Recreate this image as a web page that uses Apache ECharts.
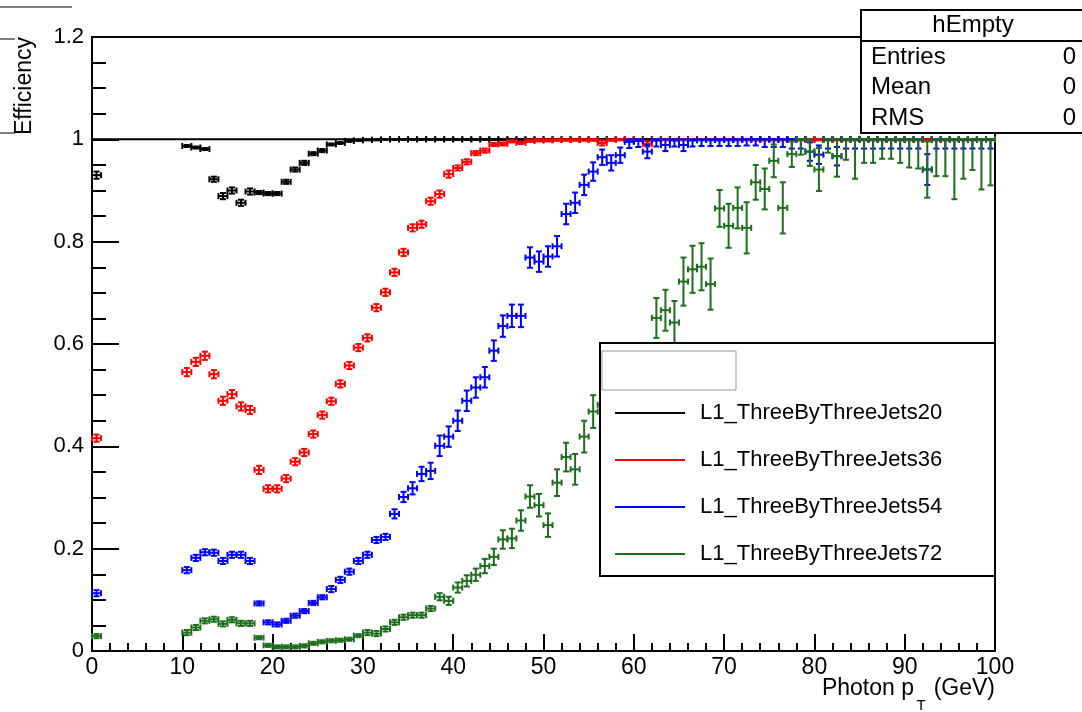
<!DOCTYPE html>
<html>
<head>
<meta charset="utf-8">
<script src="https://cdn.jsdelivr.net/npm/echarts@6/dist/echarts.min.js"></script>
<style>body { margin: 0; background: #fff; }</style>
</head>
<body>
<div id="ch" style="width: 1082px; height: 712px;"></div>

<script>
// bin centres (GeV), bins 1..10 are empty
var bins = [0.5,
  10.5, 11.5, 12.5, 13.5, 14.5, 15.5, 16.5, 17.5, 18.5, 19.5,
  20.5, 21.5, 22.5, 23.5, 24.5, 25.5, 26.5, 27.5, 28.5, 29.5,
  30.5, 31.5, 32.5, 33.5, 34.5, 35.5, 36.5, 37.5, 38.5, 39.5,
  40.5, 41.5, 42.5, 43.5, 44.5, 45.5, 46.5, 47.5, 48.5, 49.5,
  50.5, 51.5, 52.5, 53.5, 54.5, 55.5, 56.5, 57.5, 58.5, 59.5,
  60.5, 61.5, 62.5, 63.5, 64.5, 65.5, 66.5, 67.5, 68.5, 69.5,
  70.5, 71.5, 72.5, 73.5, 74.5, 75.5, 76.5, 77.5, 78.5, 79.5,
  80.5, 81.5, 82.5, 83.5, 84.5, 85.5, 86.5, 87.5, 88.5, 89.5,
  90.5, 91.5, 92.5, 93.5, 94.5, 95.5, 96.5, 97.5, 98.5, 99.5]

var jets20 = [0.93,
  0.987, 0.984, 0.981, 0.922, 0.889, 0.900, 0.876, 0.898, 0.896, 0.894,
  0.894, 0.917, 0.941, 0.954, 0.972, 0.978, 0.990, 0.993, 0.997, 0.998,
  0.999, 0.999, 1, 1, 1, 1, 1, 1, 1, 1,
  1, 1, 1, 1, 1, 1, 1, 1, 1, 1,
  1, 1, 1, 1, 1, 1, 1, 1, 1, 1,
  1, 1, 1, 1, 1, 1, 1, 1, 1, 1,
  1, 1, 1, 1, 1, 1, 1, 1, 1, 1,
  1, 1, 1, 1, 1, 1, 1, 1, 1, 1,
  1, 1, 1, 1, 1, 1, 1, 1, 1, 1]
var jets20Err = [0.007,
  0.002, 0.002, 0.002, 0.005, 0.006, 0.006, 0.006, 0.006, 0.003, 0.003,
  0.003, 0.004, 0.004, 0.004, 0.003, 0.003, 0.002, 0.002, 0.002, 0.001,
  0.001, 0.001, 0.001, 0.001, 0.001, 0.001, 0.001, 0.001, 0.001, 0.001,
  0.001, 0.001, 0.001, 0.001, 0.001, 0.001, 0.001, 0.001, 0.001, 0.001,
  0.001, 0.001, 0.001, 0.001, 0.001, 0.001, 0.001, 0.001, 0.001, 0.001,
  0.001, 0.001, 0.001, 0.001, 0.001, 0.001, 0.001, 0.001, 0.001, 0.001,
  0.001, 0.001, 0.001, 0.001, 0.001, 0.001, 0.001, 0.001, 0.001, 0.001,
  0.001, 0.001, 0.001, 0.001, 0.001, 0.001, 0.001, 0.001, 0.001, 0.001,
  0.001, 0.001, 0.001, 0.001, 0.001, 0.001, 0.001, 0.001, 0.001, 0.001]

var jets36 = [0.416,
  0.545, 0.565, 0.577, 0.541, 0.489, 0.502, 0.478, 0.471, 0.354, 0.317,
  0.317, 0.337, 0.370, 0.388, 0.424, 0.461, 0.488, 0.522, 0.558, 0.593,
  0.612, 0.671, 0.701, 0.740, 0.779, 0.827, 0.834, 0.879, 0.893, 0.932,
  0.944, 0.956, 0.973, 0.978, 0.990, 0.991, 0.996, 0.993, 0.997, 0.998,
  0.998, 0.999, 0.999, 0.999, 0.999, 0.999, 0.993, 0.999, 1, 1,
  1, 0.991, 1, 1, 1, 1, 1, 1, 1, 1,
  1, 1, 1, 1, 1, 1, 1, 1, 1, 1,
  1, 1, 1, 1, 1, 1, 1, 1, 1, 1,
  1, 1, 1, 1, 1, 1, 1, 1, 1, 1]
var jets36Err = [0.007,
  0.008, 0.008, 0.008, 0.008, 0.008, 0.008, 0.008, 0.008, 0.008, 0.007,
  0.007, 0.007, 0.007, 0.007, 0.007, 0.007, 0.007, 0.007, 0.007, 0.007,
  0.007, 0.007, 0.007, 0.007, 0.007, 0.007, 0.007, 0.007, 0.007, 0.007,
  0.005, 0.005, 0.004, 0.004, 0.003, 0.003, 0.002, 0.002, 0.002, 0.002,
  0.002, 0.002, 0.002, 0.002, 0.002, 0.002, 0.005, 0.002, 0.002, 0.002,
  0.002, 0.005, 0.002, 0.002, 0.002, 0.002, 0.002, 0.002, 0.002, 0.002,
  0.002, 0.002, 0.002, 0.002, 0.002, 0.002, 0.002, 0.002, 0.002, 0.002,
  0.002, 0.002, 0.002, 0.002, 0.002, 0.002, 0.002, 0.002, 0.002, 0.002,
  0.002, 0.002, 0.002, 0.002, 0.002, 0.002, 0.002, 0.002, 0.002, 0.002]

var jets54 = [0.113,
  0.158, 0.182, 0.193, 0.192, 0.176, 0.188, 0.188, 0.176, 0.093, 0.056,
  0.052, 0.059, 0.069, 0.078, 0.094, 0.105, 0.121, 0.139, 0.155, 0.176,
  0.188, 0.217, 0.223, 0.268, 0.301, 0.318, 0.346, 0.352, 0.401, 0.419,
  0.450, 0.489, 0.515, 0.535, 0.587, 0.635, 0.655, 0.655, 0.769, 0.761,
  0.771, 0.791, 0.854, 0.876, 0.911, 0.937, 0.965, 0.954, 0.969, 0.995,
  0.997, 0.976, 0.998, 0.989, 0.998, 0.989, 0.998, 0.999, 0.999, 0.999,
  0.999, 0.999, 1, 1, 1, 1, 1, 1, 1, 0.976,
  0.970, 1, 0.967, 1, 1, 1, 1, 1, 1, 1,
  1, 1, 0.941, 1, 1, 1, 1, 1, 1, 1]
var jets54Err = [0.006,
  0.006, 0.006, 0.006, 0.006, 0.006, 0.006, 0.006, 0.006, 0.004, 0.004,
  0.004, 0.004, 0.004, 0.004, 0.004, 0.004, 0.006, 0.006, 0.006, 0.006,
  0.006, 0.006, 0.006, 0.009, 0.010, 0.012, 0.014, 0.016, 0.020, 0.020,
  0.020, 0.020, 0.020, 0.020, 0.020, 0.021, 0.022, 0.022, 0.020, 0.020,
  0.020, 0.020, 0.020, 0.020, 0.020, 0.018, 0.015, 0.015, 0.015, 0.012,
  0.012, 0.013, 0.012, 0.012, 0.012, 0.012, 0.012, 0.012, 0.012, 0.012,
  0.012, 0.012, 0.012, 0.012, 0.015, 0.015, 0.015, 0.018, 0.018, 0.018,
  0.018, 0.018, 0.018, 0.018, 0.018, 0.018, 0.018, 0.018, 0.018, 0.018,
  0.018, 0.018, 0.030, 0.018, 0.018, 0.018, 0.018, 0.018, 0.018, 0.018]

var jets72 = [0.029,
  0.036, 0.046, 0.059, 0.062, 0.053, 0.061, 0.054, 0.054, 0.026, 0.011,
  0.008, 0.008, 0.008, 0.010, 0.015, 0.018, 0.020, 0.021, 0.023, 0.030,
  0.036, 0.034, 0.043, 0.056, 0.066, 0.070, 0.070, 0.083, 0.106, 0.098,
  0.124, 0.137, 0.149, 0.166, 0.184, 0.218, 0.220, 0.255, 0.302, 0.285,
  0.246, 0.329, 0.379, 0.355, 0.419, 0.468, 0.481, 0.500, 0.520, 0.540,
  0.550, 0.560, 0.651, 0.666, 0.642, 0.722, 0.746, 0.751, 0.717, 0.865,
  0.831, 0.866, 0.827, 0.916, 0.903, 0.958, 0.866, 0.971, 1, 0.976,
  0.941, 1, 0.967, 1, 1, 1, 1, 1, 1, 1,
  1, 1, 0.941, 1, 1, 1, 1, 1, 1, 1]
var jets72Err = [0.004,
  0.005, 0.005, 0.005, 0.005, 0.005, 0.005, 0.005, 0.005, 0.003, 0.003,
  0.003, 0.003, 0.003, 0.003, 0.003, 0.003, 0.003, 0.003, 0.003, 0.003,
  0.005, 0.005, 0.005, 0.005, 0.005, 0.005, 0.005, 0.005, 0.007, 0.008,
  0.010, 0.011, 0.012, 0.014, 0.016, 0.018, 0.019, 0.020, 0.022, 0.022,
  0.023, 0.026, 0.028, 0.030, 0.031, 0.032, 0.034, 0.034, 0.034, 0.034,
  0.034, 0.034, 0.039, 0.040, 0.042, 0.047, 0.046, 0.046, 0.050, 0.036,
  0.043, 0.040, 0.050, 0.034, 0.040, 0.032, 0.050, 0.025, 0.030, 0.028,
  0.042, 0.026, 0.040, 0.040, 0.077, 0.046, 0.046, 0.038, 0.038, 0.046,
  0.055, 0.057, 0.055, 0.072, 0.072, 0.117, 0.077, 0.060, 0.098, 0.090]

var names = ['L1_ThreeByThreeJets20', 'L1_ThreeByThreeJets36', 'L1_ThreeByThreeJets54', 'L1_ThreeByThreeJets72']
var colors = ['#000000', '#ff0000', '#0000ff', '#1e6e1e']
var yTicks = [0, 0.2, 0.4, 0.6, 0.8, 1, 1.2]
var xTicks = [0, 10, 20, 30, 40, 50, 60, 70, 80, 90, 100]

var font = 'Liberation Sans, Arial, sans-serif'

function toPoints(vals, errs) {
    return bins.map(function(x, i) {
        var v = vals[i]
        return [x, v, errs[i], Math.min(errs[i], 1 - v)]
    })
}

function renderBar(params, api) {
    var x = api.value(0), y = api.value(1)
    var lo = api.value(2), hi = api.value(3)
    var c = api.coord([x, y])
    var l = api.coord([x - 0.5, y])
    var r = api.coord([x + 0.5, y])
    var b = api.coord([x, y - lo])
    var t = api.coord([x, y + hi])
    var col = api.visual('color')
    var cap = 3
    var segs = [
        [l[0], c[1], r[0], c[1]],
        [l[0], c[1] - cap, l[0], c[1] + cap],
        [r[0], c[1] - cap, r[0], c[1] + cap],
        [c[0], b[1], c[0], t[1]],
        [c[0] - cap, b[1], c[0] + cap, b[1]],
        [c[0] - cap, t[1], c[0] + cap, t[1]]
    ]
    return {
        type: 'group',
        children: segs.map(function(s) {
            return {
                type: 'line',
                shape: { x1: s[0], y1: s[1], x2: s[2], y2: s[3] },
                style: { stroke: col, lineWidth: 2 }
            }
        })
    }
}

var allVals = [jets20, jets36, jets54, jets72]
var allErrs = [jets20Err, jets36Err, jets54Err, jets72Err]

var series = [{
    type: 'line',
    data: [[0, 1], [100, 1]],
    showSymbol: false,
    silent: true,
    z: 1,
    lineStyle: { color: '#000', width: 2 }
}]
names.forEach(function(n, i) {
    series.push({
        name: n,
        type: 'custom',
        renderItem: renderBar,
        data: toPoints(allVals[i], allErrs[i]),
        encode: { x: 0, y: 1 },
        itemStyle: { color: colors[i] },
        z: 2 + i,
        silent: true
    })
})

function txt(x, y, s, size, align, extra) {
    var el = {
        type: 'text', x: x, y: y, z: 100,
        style: { text: s, fill: '#000', font: size + 'px ' + font,
                 align: align, verticalAlign: 'middle', textAlign: align, textVerticalAlign: 'middle' }
    }
    if (extra) el.rotation = extra
    return el
}

// legend box drawn over the plot
var legendEls = [
    { type: 'rect', z: 100, shape: { x: 600, y: 343, width: 395, height: 233 },
      style: { fill: '#fff', stroke: '#000', lineWidth: 2 } },
    { type: 'rect', z: 100, shape: { x: 602, y: 351, width: 134, height: 39 },
      style: { fill: '#fff', stroke: '#999', lineWidth: 1 } }
]
var legendY = [413, 460, 507, 554]
names.forEach(function(n, i) {
    legendEls.push({ type: 'line', z: 101, shape: { x1: 615, y1: legendY[i], x2: 685, y2: legendY[i] },
        style: { stroke: colors[i], lineWidth: 2 } })
    legendEls.push(txt(700, legendY[i], n, 22, 'left'))
})

var statRows = [['Entries', '0', 57], ['Mean', '0', 87], ['RMS', '0', 118]]
var statEls = [
    { type: 'rect', z: 100, shape: { x: 861, y: 10, width: 240, height: 123 },
      style: { fill: '#fff', stroke: '#000', lineWidth: 2 } },
    { type: 'line', z: 101, shape: { x1: 861, y1: 41, x2: 1082, y2: 41 },
      style: { stroke: '#000', lineWidth: 2 } },
    txt(973, 25, 'hEmpty', 24, 'center')
]
statRows.forEach(function(r) {
    statEls.push(txt(871, r[2], r[0], 24, 'left'))
    statEls.push(txt(1076, r[2], r[1], 24, 'right'))
})

var otherEls = [
    { type: 'line', z: 100, shape: { x1: 0, y1: 7, x2: 72, y2: 7 }, style: { stroke: '#000', lineWidth: 1 } },
    { type: 'line', z: 100, shape: { x1: 0, y1: 39, x2: 15, y2: 39 }, style: { stroke: '#000', lineWidth: 1 } },
    { type: 'line', z: 100, shape: { x1: 0, y1: 133, x2: 15, y2: 133 }, style: { stroke: '#000', lineWidth: 1 } },
    txt(25, 37, 'Efficiency', 23, 'right', Math.PI / 2),
    txt(995, 689, '(GeV)', 23, 'right'),
    txt(921, 706, 'T', 15, 'center'),
    txt(914, 689, 'Photon p', 23, 'right')
]

var chartInst = echarts.init(document.getElementById('ch'))
chartInst.setOption({
    animation: false,
    backgroundColor: '#fff',
    grid: {
        left: 92, right: 87, top: 37, bottom: 61,
        show: true, borderColor: '#000', borderWidth: 2, backgroundColor: 'transparent'
    },
    xAxis: {
        type: 'value', min: xTicks[0], max: xTicks[xTicks.length - 1], interval: 10,
        axisLine: { onZero: false, lineStyle: { color: '#000', width: 2 } },
        axisTick: { inside: true, length: 17, lineStyle: { color: '#000', width: 2 } },
        minorTick: { show: true, splitNumber: 5, length: 8, lineStyle: { color: '#000', width: 2 } },
        splitLine: { show: false },
        axisLabel: { color: '#000', fontSize: 23, fontFamily: font, margin: 5 }
    },
    yAxis: {
        type: 'value', min: yTicks[0], max: yTicks[yTicks.length - 1], interval: 0.2,
        axisLine: { onZero: false, lineStyle: { color: '#000', width: 2 } },
        axisTick: { inside: true, length: 27, lineStyle: { color: '#000', width: 2 } },
        minorTick: { show: true, splitNumber: 4, length: 14, lineStyle: { color: '#000', width: 2 } },
        splitLine: { show: false },
        axisLabel: { color: '#000', fontSize: 22, fontFamily: font, margin: 8 }
    },
    series: series,
    graphic: [
        { type: 'group', zlevel: 1, children: legendEls },
        { type: 'group', zlevel: 1, children: statEls },
        { type: 'group', zlevel: 1, children: otherEls }
    ]
})
</script>
</body>
</html>
